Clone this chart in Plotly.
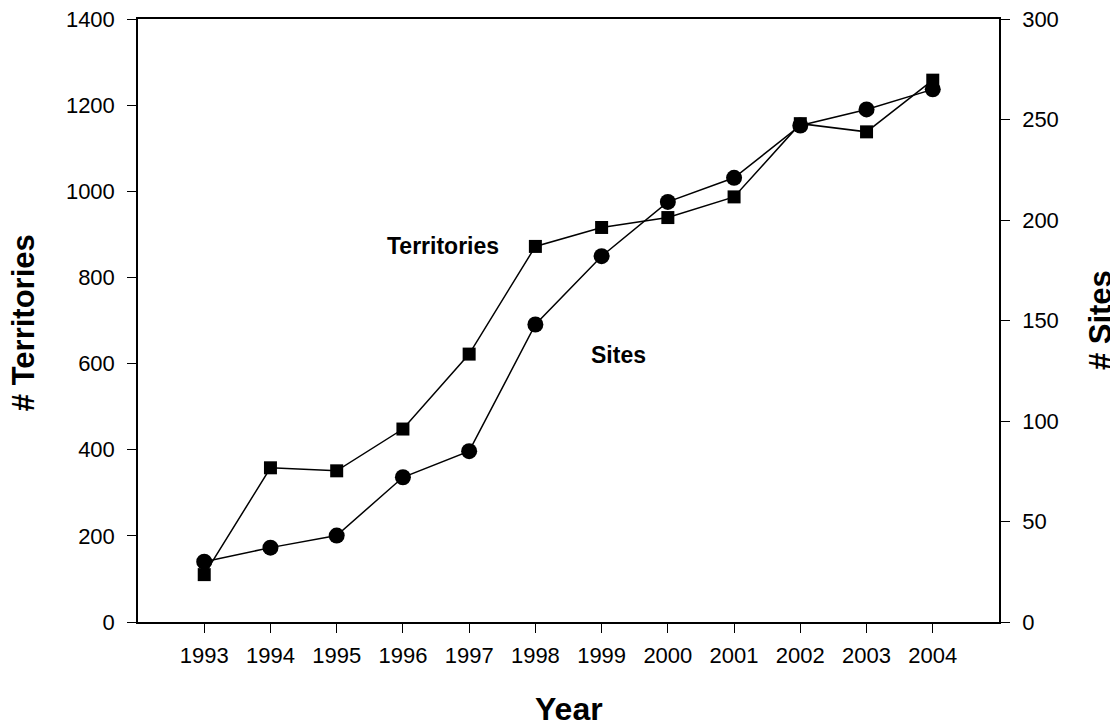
import plotly.graph_objects as go

years = [1993, 1994, 1995, 1996, 1997, 1998, 1999, 2000, 2001, 2002, 2003, 2004]
territories = [110, 358, 351, 448, 622, 872, 916, 939, 987, 1157, 1138, 1258]
sites = [30, 37, 43, 72, 85, 148, 182, 209, 221, 247, 255, 265]

left_ticks = [0, 200, 400, 600, 800, 1000, 1200, 1400]
right_ticks = [0, 50, 100, 150, 200, 250, 300]

FONT = "Arial, Liberation Sans, sans-serif"

fig = go.Figure()
fig.add_trace(go.Scatter(
    x=years, y=territories, name="Territories", mode="lines+markers",
    line=dict(color="black", width=1.5),
    marker=dict(symbol="square", size=13, color="black"),
    yaxis="y",
))
fig.add_trace(go.Scatter(
    x=years, y=sites, name="Sites", mode="lines+markers",
    line=dict(color="black", width=1.5),
    marker=dict(symbol="circle", size=16, color="black"),
    yaxis="y2",
))

axis_common = dict(
    showgrid=False, zeroline=False, showline=True, linecolor="black", linewidth=1.5,
    ticks="outside", ticklen=9, tickwidth=1.3, tickcolor="black", automargin=False,
    ticklabeloverflow="allow",
    tickfont=dict(family=FONT, size=22, color="black"),
)

fig.update_layout(
    width=1110, height=717,
    margin=dict(l=130, r=119, t=11, b=103, autoexpand=False),
    paper_bgcolor="white", plot_bgcolor="white",
    showlegend=False,
    xaxis=dict(range=[1992, 2005], tickvals=years, mirror=True, ticklabelstandoff=4, **axis_common),
    yaxis=dict(range=[0, 1400], tickvals=left_ticks, ticklabelstandoff=8, **axis_common),
    yaxis2=dict(range=[0, 300], tickvals=right_ticks, overlaying="y", side="right",
                ticklabelstandoff=8, **axis_common),
    annotations=[
        dict(text="Territories", x=1996.61, y=872, xref="x", yref="y", showarrow=False,
             xanchor="center", yanchor="middle",
             font=dict(family=FONT, size=23, color="black", weight="bold")),
        dict(text="Sites", x=1999.25, y=620, xref="x", yref="y", showarrow=False,
             xanchor="center", yanchor="middle",
             font=dict(family=FONT, size=23, color="black", weight="bold")),
        dict(text="Year", x=0.5, y=-0.1438, xref="paper", yref="paper", showarrow=False,
             xanchor="center", yanchor="middle",
             font=dict(family=FONT, size=32, color="black", weight="bold")),
        dict(text="# Territories", x=-0.1331, y=0.4963, xref="paper", yref="paper", showarrow=False,
             xanchor="center", yanchor="middle", textangle=-90,
             font=dict(family=FONT, size=31, color="black", weight="bold")),
        dict(text="# Sites", x=1.118, y=0.5, xref="paper", yref="paper", showarrow=False,
             xanchor="center", yanchor="middle", textangle=-90,
             font=dict(family=FONT, size=31, color="black", weight="bold")),
    ],
)

fig.write_html("out.html")
